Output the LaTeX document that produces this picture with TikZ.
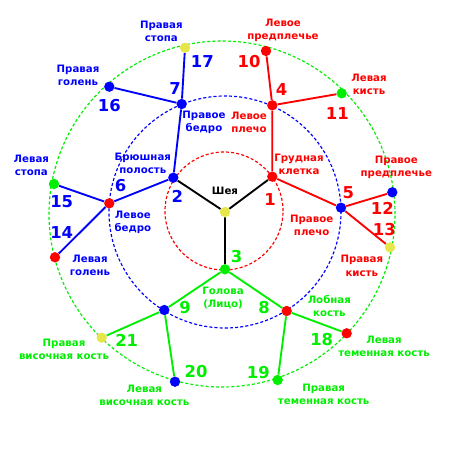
\documentclass[tikz,border=0pt]{standalone}
\usepackage{fontspec}
\setmainfont{DejaVu Sans}
\usepackage{xcolor}
\usepackage{tikz}
\usetikzlibrary{positioning,calc,backgrounds}

\definecolor{bodyred}{HTML}{FF0000}
\definecolor{bodyblue}{HTML}{0000FF}
\definecolor{bodygreen}{HTML}{00EE00}
\definecolor{bodyyellow}{HTML}{E6E64A}

\begin{document}
\begin{tikzpicture}[
    x=0.3mm, y=0.3mm,
    dot/.style={circle, fill=#1, inner sep=0pt, minimum size=3.1mm},
    bone/.style={line width=1.6pt, draw=#1},
    ring/.style={line width=1pt, draw=#1, dash pattern=on 2.6pt off 1.8pt},
    lbl/.style={text=#1, align=center, inner sep=0pt, font=\bfseries\fontsize{8.7}{11.2}\selectfont},
    num/.style={text=#1, inner sep=0pt, font=\bfseries\fontsize{14}{14}\selectfont}
]
\useasboundingbox (-225,-238) rectangle (225,212);

% joints
\node[dot=bodyyellow] (neck) at (0,0) {};
\node[dot=bodyred] (p1) at (47.3,35.3) {};
\node[dot=bodyblue] (p2) at (-51.7,34.3) {};
\node[dot=bodygreen] (p3) at (0,-57.3) {};
\node[dot=bodyred] (p4) at (47.3,106.7) {};
\node[dot=bodyblue] (p5) at (116,4.3) {};
\node[dot=bodyred] (p6) at (-115.7,8.7) {};
\node[dot=bodyblue] (p7) at (-43.3,108) {};
\node[dot=bodyred] (p8) at (61.7,-99) {};
\node[dot=bodyblue] (p9) at (-60.7,-98) {};
\node[dot=bodyred] (p10) at (41,161) {};
\node[dot=bodygreen] (p11) at (116.7,118.7) {};
\node[dot=bodyblue] (p12) at (167.3,19.7) {};
\node[dot=bodyyellow] (p13) at (165,-35.3) {};
\node[dot=bodyred] (p14) at (-170,-45.3) {};
\node[dot=bodygreen] (p15) at (-171,28) {};
\node[dot=bodyblue] (p16) at (-115.7,125.3) {};
\node[dot=bodyyellow] (p17) at (-40,164.3) {};
\node[dot=bodyred] (p18) at (121.7,-121.3) {};
\node[dot=bodygreen] (p19) at (52.7,-168) {};
\node[dot=bodyblue] (p20) at (-50,-169.7) {};
\node[dot=bodyyellow] (p21) at (-123.3,-125.7) {};

% rings and bones behind the joints
\begin{scope}[on background layer]
\draw[ring=bodyred] (-1,1) circle (59);
\draw[ring=bodyblue] (0,0) circle (116);
\draw[ring=bodygreen] (-3,-2) circle (173);
\draw[bone=black] (neck) -- (p1) (neck) -- (p2) (neck) -- (p3);
\draw[bone=bodyred] (p1) -- (p4) (p4) -- (p10) (p4) -- (p11)
    (p1) -- (p5) (p5) -- (p12) (p5) -- (p13);
\draw[bone=bodyblue] (p2) -- (p7) (p7) -- (p17) (p7) -- (p16)
    (p2) -- (p6) (p6) -- (p15) (p6) -- (p14);
\draw[bone=bodygreen] (p3) -- (p8) (p8) -- (p18) (p8) -- (p19)
    (p3) -- (p9) (p9) -- (p21) (p9) -- (p20);
\end{scope}

% numbers
\node[num=bodyred] (n1) at (45,12.7) {1};
\node[num=bodyblue] (n2) at (-47.7,15.3) {2};
\node[num=bodygreen] (n3) at (11.7,-44.7) {3};
\node[num=bodyred] (n4) at (56.7,122) {4};
\node[num=bodyred] (n5) at (123.3,19.3) {5};
\node[num=bodyblue] (n6) at (-104.3,26) {6};
\node[num=bodyblue] (n7) at (-50,123.7) {7};
\node[num=bodygreen] (n8) at (39,-95.7) {8};
\node[num=bodygreen] (n9) at (-40,-95.7) {9};
\node[num=bodyred] (n10) at (24,150.3) {10};
\node[num=bodyred] (n11) at (112.3,98.7) {11};
\node[num=bodyred] (n12) at (157.3,3.7) {12};
\node[num=bodyred] (n13) at (159.3,-17.3) {13};
\node[num=bodyblue] (n14) at (-163.3,-20.7) {14};
\node[num=bodyblue] (n15) at (-163.3,10.3) {15};
\node[num=bodyblue] (n16) at (-115.7,106) {16};
\node[num=bodyblue] (n17) at (-22.7,150.3) {17};
\node[num=bodygreen] (n18) at (96.7,-127.3) {18};
\node[num=bodygreen] (n19) at (33.3,-160.3) {19};
\node[num=bodygreen] (n20) at (-29,-159.7) {20};
\node[num=bodygreen] (n21) at (-98.3,-128) {21};

% labels
\node[lbl=black] (lneck) at (0,21.3) {Шея};
\node[lbl=bodyred] (l1) at (74,47.3) {Грудная\\клетка};
\node[lbl=bodyblue] (l2) at (-82.2,48.7) {Брюшная\\полость};
\node[lbl=bodygreen] (l3) at (-2,-86) {Голова\\(Лицо)};
\node[lbl=bodyred] (l4) at (24,89.5) {Левое\\плечо};
\node[lbl=bodyred] (l5) at (86.7,-13.3) {Правое\\плечо};
\node[lbl=bodyblue] (l6) at (-92.2,-10) {Левое\\бедро};
\node[lbl=bodyblue] (l7) at (-21,90) {Правое\\бедро};
\node[lbl=bodygreen] (l8) at (104.3,-93.8) {Лобная\\кость};
\node[lbl=bodyred] (l10) at (58,181.3) {Левое\\предплечье};
\node[lbl=bodyred] (l11) at (144,128) {Левая\\кисть};
\node[lbl=bodyred] (l12) at (171.3,44.5) {Правое\\предплечье};
\node[lbl=bodyred] (l13) at (136.8,-53.8) {Правая\\кисть};
\node[lbl=bodyblue] (l14) at (-135,-53.5) {Левая\\голень};
\node[lbl=bodyblue] (l15) at (-193.7,46.3) {Левая\\стопа};
\node[lbl=bodyblue] (l16) at (-147,136.3) {Правая\\голень};
\node[lbl=bodyblue] (l17) at (-63.7,180.3) {Правая\\стопа};
\node[lbl=bodygreen] (l18) at (159,-134.7) {Левая\\теменная кость};
\node[lbl=bodygreen] (l19) at (98.7,-182.7) {Правая\\теменная кость};
\node[lbl=bodygreen] (l20) at (-80.7,-183) {Левая\\височная кость};
\node[lbl=bodygreen] (l21) at (-161,-137.7) {Правая\\височная кость};
\end{tikzpicture}
\end{document}
